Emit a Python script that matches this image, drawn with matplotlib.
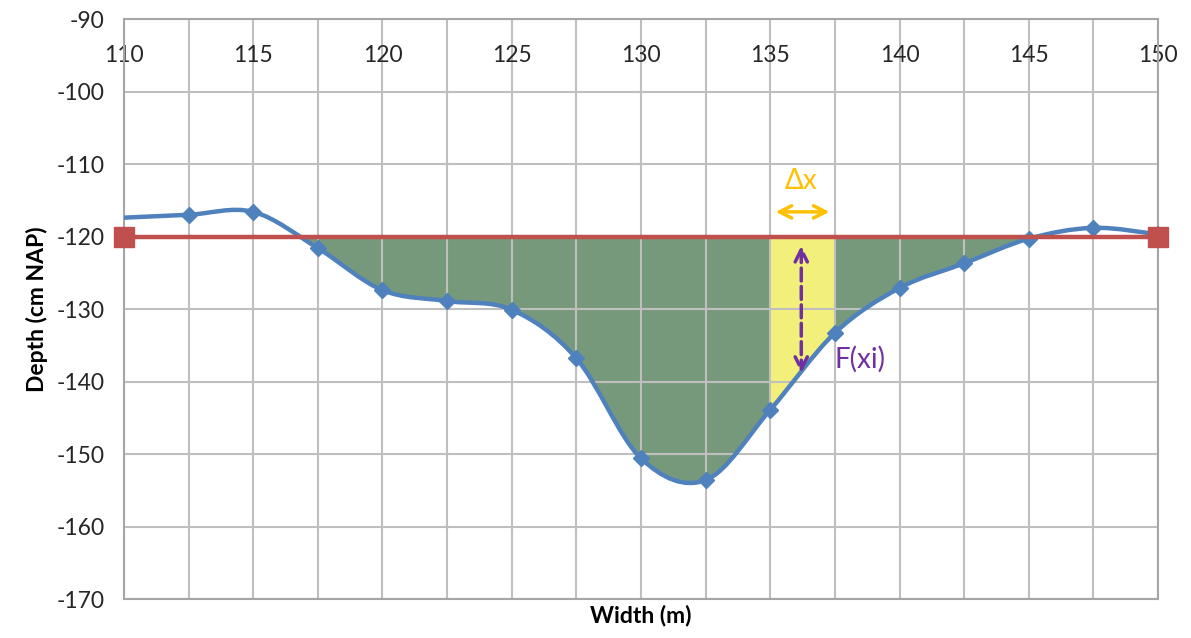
import numpy as np
import matplotlib.pyplot as plt
from matplotlib.path import Path
from matplotlib.patches import PathPatch, Rectangle
from matplotlib.ticker import MultipleLocator

plt.rcParams['font.family'] = ['Lato', 'DejaVu Sans']
plt.rcParams['axes.unicode_minus'] = False

# cross-section data
width_m = [110, 112.5, 115, 117.5, 120, 122.5, 125, 127.5, 130,
           132.5, 135, 137.5, 140, 142.5, 145, 147.5, 150]
depth_cm = [-117.4, -117.0, -116.6, -121.6, -127.4, -128.9, -130.1, -136.8, -150.6,
            -153.6, -143.9, -133.3, -127.1, -123.7, -120.3, -118.8, -119.7]
water_level = -120
level_x = [110, 150]
strip_x = [135, 137.5]   # the highlighted dx strip


def smooth_path(x, y):
    # excel style smoothed line, as bezier segments
    pts = np.column_stack([x, y])
    n = len(pts)
    verts = [pts[0]]
    codes = [Path.MOVETO]
    for i in range(n - 1):
        p0 = pts[max(i - 1, 0)]
        p1 = pts[i]
        p2 = pts[i + 1]
        p3 = pts[min(i + 2, n - 1)]
        verts += [p1 + (p2 - p0) / 6, p2 - (p3 - p1) / 6, p2]
        codes += [Path.CURVE4] * 3
    return verts, codes


fig = plt.figure(figsize=(11.91, 6.38), dpi=100)
ax = fig.add_axes([0.1041, 0.0611, 0.8682, 0.9091])

verts, codes = smooth_path(width_m, depth_cm)

# area between the bed and the water level
area_verts = verts + [(width_m[-1], water_level), (width_m[0], water_level), (0, 0)]
area_codes = codes + [Path.LINETO, Path.LINETO, Path.CLOSEPOLY]
area_path = Path(area_verts, area_codes)

green = PathPatch(area_path, facecolor='#77997B', edgecolor='none', zorder=1)
ax.add_patch(green)
green.set_clip_path(Rectangle((level_x[0], -200), level_x[1] - level_x[0], 200 + water_level,
                              transform=ax.transData))

yellow = PathPatch(area_path, facecolor='#F3EF7B', edgecolor='none', zorder=1.1)
ax.add_patch(yellow)
yellow.set_clip_path(Rectangle((strip_x[0], -200), strip_x[1] - strip_x[0], 200 + water_level,
                               transform=ax.transData))

# bed profile
ax.add_patch(PathPatch(Path(verts, codes), facecolor='none', edgecolor='#4F81BD',
                       lw=3.2, zorder=3, capstyle='round'))
ax.plot(width_m[1:], depth_cm[1:], linestyle='none', marker='D', markersize=8.5,
        color='#4F81BD', zorder=4)

# water level
ax.plot(level_x, [water_level, water_level], color='#C0504D', lw=3.2,
        marker='s', markersize=14, zorder=5, clip_on=False)

# annotations
ax.annotate('', xy=(137.4, -116.6), xytext=(135.1, -116.6),
            arrowprops=dict(arrowstyle='<->', color='#FFC000', lw=2.5, mutation_scale=22),
            zorder=6)
ax.text(136.2, -112.4, 'Δx', color='#FFC000', fontsize=20, ha='center', va='center')
ax.annotate('', xy=(136.2, -139.2), xytext=(136.2, -120.9),
            arrowprops=dict(arrowstyle='<->', color='#7030A0', lw=2.5, linestyle='--',
                            mutation_scale=22),
            zorder=6)
ax.text(137.5, -137.0, 'F(xi)', color='#7030A0', fontsize=20, ha='left', va='center')

# axes and grid
ax.set_xlim(110, 150)
ax.set_ylim(-170, -90)
ax.xaxis.set_major_locator(MultipleLocator(5))
ax.xaxis.set_minor_locator(MultipleLocator(2.5))
ax.yaxis.set_major_locator(MultipleLocator(10))
ax.set_axisbelow('line')
ax.grid(True, which='both', axis='x', color='#BFBFBF', lw=1.5)
ax.grid(True, which='major', axis='y', color='#BFBFBF', lw=1.5)

ax.xaxis.set_ticks_position('top')
ax.tick_params(axis='x', which='both', length=0, pad=-26, labelsize=16.5, colors='#262626')
for lab in ax.get_xticklabels():
    lab.set_va('center')
ax.tick_params(axis='y', length=0, pad=14, labelsize=16.5, colors='#262626')

for s in ax.spines.values():
    s.set_color('#A6A6A6')
    s.set_linewidth(1.5)

ax.set_xlabel('Width (m)', fontsize=16.5, fontweight='bold', labelpad=4)
ax.set_ylabel('Depth (cm NAP)', fontsize=16.5, fontweight='bold', labelpad=6)

fig.savefig('out.png', dpi=100)
